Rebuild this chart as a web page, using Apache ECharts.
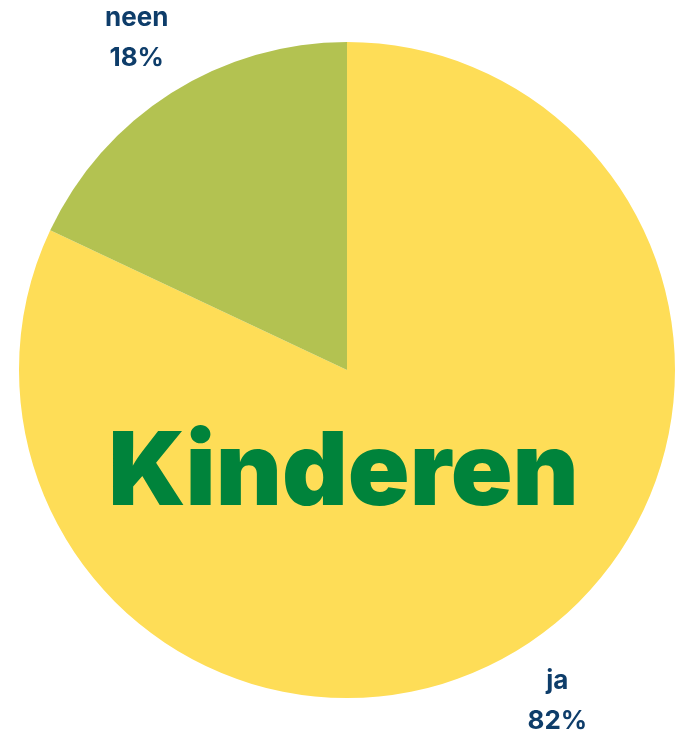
<!DOCTYPE html>
<html>
<head>
<meta charset="utf-8">
<script src="https://cdn.jsdelivr.net/npm/echarts@6/dist/echarts.min.js"></script>
<style>
  html, body { margin: 0; padding: 0; background: #fff; }
  #chart { width: 687px; height: 737px; }
</style>
</head>
<body>
<div id="chart"></div>
<script>
// data
const categories = ['ja', 'neen']
const values = [82, 18]
const colors = ['#FEDD57', '#B3C251']

let myChart = echarts.init(document.getElementById('chart'))

const pieData = categories.map((name, i) => ({
  name: name,
  value: values[i],
  itemStyle: { color: colors[i] },
}))

let option = {
  title: {
    text: 'Kinderen',
    left: 'center',
    top: 418,
    textStyle: {
      fontFamily: 'Inter',
      fontWeight: 900,
      fontSize: 102,
      color: '#00833B',
    },
  },
  series: [
    {
      type: 'pie',
      center: [347, 370],
      radius: [0, 328],
      startAngle: 90,
      clockwise: true,
      silent: true,
      label: { show: false },
      labelLine: { show: false },
      data: pieData,
    },
    {
      // transparent ring only to place the labels outside the pie
      type: 'pie',
      center: [347, 370],
      radius: [328, 451],
      startAngle: 90,
      clockwise: true,
      silent: true,
      itemStyle: { color: 'transparent' },
      label: {
        show: true,
        position: 'inside',
        formatter: '{b}\n{d}%',
        fontFamily: 'Inter',
        fontWeight: 'bold',
        fontSize: 26,
        lineHeight: 40,
        color: '#0E3D6A',
      },
      labelLine: { show: false },
      data: categories.map((name, i) => ({ name: name, value: values[i] })),
    },
  ],
}

myChart.setOption(option)
</script>
</body>
</html>
